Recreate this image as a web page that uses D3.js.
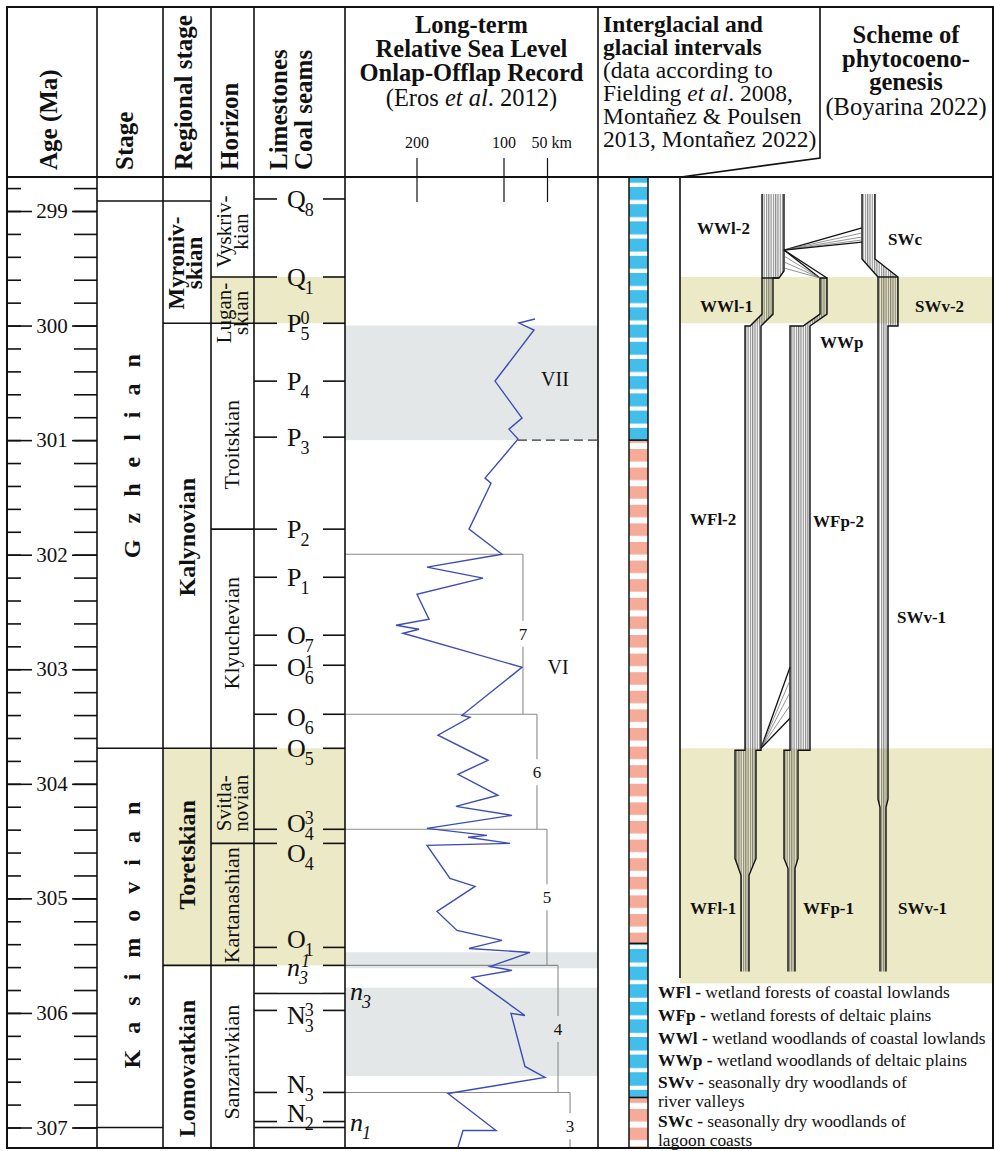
<!DOCTYPE html>
<html>
<head>
<meta charset="utf-8">
<script src="https://cdn.jsdelivr.net/npm/d3@7"></script>
<style>
  body { margin: 0; background: #fff; }
  svg { display: block; }
  text { font-family: "Liberation Serif", "Times New Roman", serif; fill: #111; }
</style>
</head>
<body>
<svg id="chart" width="994" height="1151"></svg>
<script>
// ---- data ----
const ageMajor = [299, 300, 301, 302, 303, 304, 305, 306, 307];
const ageMajorLabels = ["299", "300", "301", "302", "303", "304", "305", "306", "307"];
const ageMinor = d3.range(0, 42).map(i => +(298.8 + i * 0.2).toFixed(1));

const stageNames = ["Gzhelian", "Kasimovian"];
const stageLabelAges = [301.14, 305.32];

const regionalNames = [["Myroniv-", "skian"], ["Kalynovian"], ["Toretskian"], ["Lomovatkian"]];
const regionalLabelAges = [299.454, 301.847, 304.62, 306.485];

const horizonNames = [["Vyskriv-", "kian"], ["Lugan-", "skian"], ["Troitskian"], ["Klyuchevian"],
  ["Svitla-", "novian"], ["Kartanashian"], ["Sanzarivkian"]];
const horizonLabelAges = [299.18, 299.89, 301.04, 302.686, 304.17, 305.06, 306.43];

// boundaries: age, first column, last column
const boundaryAges = [298.913, 299.576, 299.98, 301.777, 303.69, 304.52, 305.585, 307.0];
const boundaryFrom = ["stage", "hor", "reg", "hor", "stage", "hor", "reg", "stage"];
const boundaryTo = ["reg", "hor", "hor", "hor", "hor", "hor", "hor", "stage"];

// limestone / coal seam markers
const seamLetters = ["Q", "Q", "P", "P", "P", "P", "P", "O", "O", "O", "O", "O", "O", "O", "n", "N", "N", "N"];
const seamSubs = ["8", "1", "5", "4", "3", "2", "1", "7", "6", "6", "5", "4", "4", "1", "3", "3", "3", "2"];
const seamSups = ["", "", "0", "", "", "", "", "", "1", "", "", "3", "", "", "1", "3", "", ""];
const seamAges = [298.895, 299.576, 299.98, 300.485, 300.974, 301.777, 302.197, 302.703, 302.965,
  303.393, 303.69, 304.397, 304.52, 305.428, 305.585, 305.978, 306.694, 306.948];
const outerSeamSubs = ["3", "1"];
const outerSeamAges = [305.83, 307.0];

// yellow (warm) intervals
const yellowTops = [299.576, 303.69];
const yellowBottomsLeft = [299.98, 305.585];
const yellowFromCol = ["hor", "reg"];
const yellowBottomsScheme = [299.98, 305.742];

// long-term sea level (km)
const seaAges = [299.943, 299.978, 300.039, 300.485, 300.808, 300.904, 300.991, 301.332, 301.376, 301.777,
  301.996, 302.109, 302.205, 302.345, 302.563, 302.616, 302.651, 302.686, 302.983, 303.402, 303.419,
  303.576, 303.795, 303.917, 304.100, 304.197, 304.275, 304.389, 304.45, 304.467, 304.52, 304.537,
  304.825, 304.895, 305.114, 305.28, 305.367, 305.437, 305.472, 305.594, 305.629, 305.69, 306.022,
  306.004, 306.467, 306.563, 306.703, 307.026, 307.026, 307.2];
const seaKm = [64.4, 82.8, 65.5, 110.3, 79.3, 94.3, 83.9, 121.8, 114.9, 140.2,
  102.3, 188.5, 124.1, 200, 186.2, 224.1, 197.7, 216.1, 79.3, 148.3, 139.1,
  175.9, 118.4, 152.9, 106.9, 155.2, 90.8, 188.5, 119.5, 141.4, 93.1, 188.5,
  162.1, 133.3, 177, 154, 102.3, 140.2, 70.1, 116.1, 90.8, 136.8, 75.9,
  92, 75.9, 52.9, 164.4, 109.2, 147.1, 154];
const kmTicks = [200, 100, 50];
const kmTickLabels = ["200", "100", "50 km"];

const stepNames = ["7", "6", "5", "4", "3"];
const stepTops = [301.996, 303.393, 304.397, 305.585, 306.694];
const stepBottoms = [303.393, 304.397, 305.585, 306.694, 307.3];
const stepKm = [78.2, 62.1, 50.6, 37.9, 24.1];
const stepLabelAges = [302.69, 303.9, 304.99, 306.14, 306.99];

const cycleNames = ["VII", "VI"];
const cycleAges = [300.47, 302.98];
const cycleKm = [41.4, 37.9];

const grayTops = [300.0, 305.47, 305.78];
const grayBottoms = [301.0, 305.61, 306.55];
const dashedAge = 301.0, dashedKm = 84;

// interglacial / glacial bar
const glacialTops = [298.7, 301.0, 305.393, 306.738];
const glacialBottoms = [301.0, 305.393, 306.738, 307.2];
const glacialKinds = ["glacial", "interglacial", "glacial", "interglacial"];

// phytocoenogenesis scheme: band edges [offset in panel, age]
const lineages = [
  { left: [[61, 305.638], [61, 304.799], [55, 304.651], [55, 303.707], [65, 303.707], [65, 300.004], [70, 300.004], [82, 299.9], [82, 298.852]],
    right: [[69, 305.638], [69, 304.799], [76, 304.651], [76, 303.707], [81, 303.707], [81, 300.004], [93, 299.9], [93, 299.585], [99, 299.585], [104, 299.524], [104, 298.852]],
    capTop: false },
  { left: [[108, 305.638], [108, 304.738], [104, 304.651], [104, 303.707], [110, 303.707], [110, 300.004], [123, 300.004], [140, 299.9], [140, 299.585]],
    right: [[115, 305.638], [115, 304.738], [118, 304.651], [118, 303.707], [130, 303.707], [130, 300.004], [147, 299.9], [147, 299.585]],
    capTop: true },
  { left: [[200, 305.638], [200, 304.205], [198, 304.135], [198, 299.576], [182, 299.419], [182, 298.852]],
    right: [[206, 305.638], [206, 304.205], [208, 304.135], [208, 300.004], [218, 300.004], [218, 299.576], [195, 299.419], [195, 298.852]],
    capTop: false }
];
const bandCuts = [[82, 99, 299.585], [198, 218, 299.576]];
// fans: [from, to] points
const fanLines = [
  [[104, 299.341], [182, 299.148]], [[104, 299.341], [182, 299.192]], [[104, 299.341], [182, 299.227]],
  [[104, 299.341], [182, 299.253]], [[104, 299.341], [182, 299.271]],
  [[104, 299.341], [147, 299.585]], [[104, 299.341], [140, 299.585]], [[104, 299.393], [140, 299.585]],
  [[104, 299.445], [140, 299.585]], [[104, 299.498], [140, 299.585]],
  [[81, 303.69], [110, 302.983]], [[81, 303.69], [110, 303.096]], [[81, 303.69], [110, 303.201]],
  [[81, 303.69], [110, 303.314]], [[81, 303.69], [110, 303.428]]
];
const fanOuter = [0, 4, 5, 6, 10, 14];

const schemeLabels = ["WWl-2", "SWc", "WWl-1", "SWv-2", "WWp", "WFl-2", "WFp-2", "SWv-1", "WFl-1", "WFp-1", "SWv-1"];
const schemeLabelX = [17, 208, 20, 235, 140, 10, 133, 217, 10, 123, 218];
const schemeLabelAges = [299.148, 299.245, 299.83, 299.83, 300.144, 301.69, 301.707, 302.546, 305.087, 305.087, 305.087];

const legendCodes = ["WFl", "WFp", "WWl", "WWp", "SWv", "SWc"];
const legendTexts = [["wetland forests of coastal lowlands"], ["wetland forests of deltaic plains"],
  ["wetland woodlands of coastal lowlands"], ["wetland woodlands of deltaic plains"],
  ["seasonally dry woodlands of", "river valleys"], ["seasonally dry woodlands of", "lagoon coasts"]];

// ---- layout ----
const W = 994, H = 1151;
const X0 = 7, X1 = 993, Y0 = 7, YH = 177, Y1 = 1148;
const col = { age: [7, 97], stage: [97, 163], reg: [163, 211], hor: [211, 254], lim: [254, 345],
  sea: [345, 598], glac: [598, 680], scheme: [680, 993] };
// vertical nudge (px) of each seam label relative to its tick, as placed in the figure
const seamLabelShift = [0, 0, 0, 0, 0, 0, 0, 0, 2, 3, 0, -6, 10, -8, 5, 5, -8, -9];
const outerLabelShift = [1, -3];

const y = d3.scaleLinear().domain([299, 307]).range([211, 1127.5]);
const x = d3.scaleLinear().domain([0, 200]).range([591, 417]);
const sx = d3.scaleLinear().domain([0, 313]).range([680, 993]);

const svg = d3.select("#chart");
svg.append("rect").attr("width", W).attr("height", H).attr("fill", "#fff");

const YEL = "#ebe9c6", GRAY = "#e3e7e8", BLUE = "#41bfea", SALMON = "#f5ab97";

const defs = svg.append("defs");
defs.append("clipPath").attr("id", "seaClip").append("rect")
  .attr("x", col.sea[0]).attr("y", YH).attr("width", col.sea[1] - col.sea[0]).attr("height", Y1 - YH);
defs.append("clipPath").attr("id", "bodyClip").append("rect")
  .attr("x", X0).attr("y", YH).attr("width", X1 - X0).attr("height", Y1 - YH);

const hatch = defs.append("pattern").attr("id", "hatch").attr("patternUnits", "userSpaceOnUse")
  .attr("width", 2.3).attr("height", 10);
hatch.append("rect").attr("width", 1.2).attr("height", 10).attr("fill", "rgba(70,70,70,0.62)");

// bar stripe patterns
const stripeDefs = [
  { id: "gl0", c: BLUE, p: 17.2, on: 13, y0: 187 },
  { id: "ig1", c: SALMON, p: 18.6, on: 12.5, y0: 449 },
  { id: "gl2", c: BLUE, p: 17.6, on: 13.5, y0: 949 },
  { id: "ig3", c: SALMON, p: 18.6, on: 12.5, y0: 1109 }
];
stripeDefs.forEach(s => {
  const p = defs.append("pattern").attr("id", s.id).attr("patternUnits", "userSpaceOnUse")
    .attr("x", 0).attr("y", s.y0).attr("width", 40).attr("height", s.p);
  p.append("rect").attr("width", 40).attr("height", s.p).attr("fill", "#fff");
  p.append("rect").attr("width", 40).attr("height", s.on).attr("fill", s.c);
});

// ---- backgrounds ----
const bg = svg.append("g");
yellowTops.forEach((t, i) => {
  bg.append("rect").attr("x", col[yellowFromCol[i]][0]).attr("y", y(t))
    .attr("width", col.lim[1] - col[yellowFromCol[i]][0]).attr("height", y(yellowBottomsLeft[i]) - y(t))
    .attr("fill", YEL);
  bg.append("rect").attr("x", col.scheme[0]).attr("y", y(t))
    .attr("width", col.scheme[1] - col.scheme[0]).attr("height", y(yellowBottomsScheme[i]) - y(t))
    .attr("fill", YEL);
});
grayTops.forEach((t, i) => {
  bg.append("rect").attr("x", col.sea[0]).attr("y", y(t))
    .attr("width", col.sea[1] - col.sea[0]).attr("height", y(grayBottoms[i]) - y(t)).attr("fill", GRAY);
});

// ---- glacial bar ----
const barX0 = 629, barX1 = 648;
const bar = svg.append("g").attr("clip-path", "url(#bodyClip)");
glacialTops.forEach((t, i) => {
  bar.append("rect").attr("x", barX0).attr("y", y(t)).attr("width", barX1 - barX0)
    .attr("height", y(glacialBottoms[i]) - y(t)).attr("fill", `url(#${stripeDefs[i].id})`);
  if (i > 0) bar.append("line").attr("x1", barX0).attr("x2", barX1).attr("y1", y(t)).attr("y2", y(t))
    .attr("stroke", "#111").attr("stroke-width", 1.6);
});
[barX0, barX1].forEach(bx => bar.append("line").attr("x1", bx).attr("x2", bx).attr("y1", YH).attr("y2", Y1)
  .attr("stroke", "#111").attr("stroke-width", 1.5));

// ---- sea level column ----
const sea = svg.append("g").attr("clip-path", "url(#seaClip)");
stepNames.forEach((n, i) => {
  const sxp = x(stepKm[i]);
  sea.append("line").attr("x1", col.sea[0]).attr("x2", sxp).attr("y1", y(stepTops[i])).attr("y2", y(stepTops[i]))
    .attr("stroke", "#8a8a8a").attr("stroke-width", 1.1);
  const ly = y(stepLabelAges[i]);
  sea.append("line").attr("x1", sxp).attr("x2", sxp).attr("y1", y(stepTops[i])).attr("y2", ly - 13)
    .attr("stroke", "#8a8a8a").attr("stroke-width", 1.1);
  sea.append("line").attr("x1", sxp).attr("x2", sxp).attr("y1", ly + 13).attr("y2", y(stepBottoms[i]))
    .attr("stroke", "#8a8a8a").attr("stroke-width", 1.1);
  sea.append("text").attr("x", sxp).attr("y", ly + 6).attr("text-anchor", "middle")
    .style("font-size", "17px").text(n);
});
sea.append("line").attr("x1", x(dashedKm)).attr("x2", col.sea[1]).attr("y1", y(dashedAge)).attr("y2", y(dashedAge))
  .attr("stroke", "#333").attr("stroke-width", 1.1).attr("stroke-dasharray", "9,5");
cycleNames.forEach((n, i) => {
  sea.append("text").attr("x", x(cycleKm[i])).attr("y", y(cycleAges[i]) + 7).attr("text-anchor", "middle")
    .style("font-size", "20px").text(n);
});
const seaPts = seaAges.map((a, i) => [a, seaKm[i]]);
sea.append("path").datum(seaPts)
  .attr("d", d3.line().x(d => x(d[1])).y(d => y(d[0])))
  .attr("fill", "none").attr("stroke", "#3c4db5").attr("stroke-width", 1.4).attr("stroke-linejoin", "miter");

// km ticks in header
kmTicks.forEach((k, i) => {
  svg.append("line").attr("x1", x(k)).attr("x2", x(k)).attr("y1", 158).attr("y2", 202)
    .attr("stroke", "#111").attr("stroke-width", 1.2);
  svg.append("text").attr("x", i === 2 ? x(k) - 16 : x(k)).attr("y", 148)
    .attr("text-anchor", i === 2 ? "start" : "middle").style("font-size", "16px").text(kmTickLabels[i]);
});

// ---- scheme ----
const sch = svg.append("g");
const pt = d => [sx(d[0]), y(d[1])];
lineages.forEach(L => {
  const poly = L.left.map(pt).concat(L.right.slice().reverse().map(pt));
  sch.append("path").attr("d", d3.line()(poly) + "Z").attr("fill", "url(#hatch)");
  const edge = d3.line();
  if (L.capTop) {
    sch.append("path").attr("d", edge(L.left.map(pt).concat(L.right.slice().reverse().map(pt))))
      .attr("fill", "none").attr("stroke", "#111").attr("stroke-width", 1.4);
  } else {
    sch.append("path").attr("d", edge(L.left.map(pt))).attr("fill", "none").attr("stroke", "#111").attr("stroke-width", 1.4);
    sch.append("path").attr("d", edge(L.right.map(pt))).attr("fill", "none").attr("stroke", "#111").attr("stroke-width", 1.4);
  }
});
bandCuts.forEach(c => {
  sch.append("line").attr("x1", sx(c[0])).attr("x2", sx(c[1])).attr("y1", y(c[2])).attr("y2", y(c[2]))
    .attr("stroke", "#111").attr("stroke-width", 1.4);
});
fanLines.forEach((f, i) => {
  const outer = fanOuter.includes(i);
  sch.append("line").attr("x1", sx(f[0][0])).attr("y1", y(f[0][1])).attr("x2", sx(f[1][0])).attr("y2", y(f[1][1]))
    .attr("stroke", outer ? "#111" : "#666").attr("stroke-width", outer ? 1.3 : 0.7);
});
schemeLabels.forEach((s, i) => {
  sch.append("text").attr("x", sx(schemeLabelX[i])).attr("y", y(schemeLabelAges[i]) + 6)
    .style("font-size", "17px").style("font-weight", "bold").text(s);
});

// legend
const legY = [998, 1021, 1044, 1066, 1088, 1127];
legendCodes.forEach((c, i) => {
  legendTexts[i].forEach((t, j) => {
    const tx = svg.append("text").attr("x", 658).attr("y", legY[i] + j * 19).style("font-size", "17.4px");
    if (j === 0) {
      tx.append("tspan").style("font-weight", "bold").text(c + " - ");
      tx.append("tspan").text(t);
    } else tx.text(t);
  });
});

// ---- grid lines ----
const grid = svg.append("g").attr("stroke", "#111");
[97, 163, 211, 254, 345, 598].forEach(gx => grid.append("line").attr("x1", gx).attr("x2", gx)
  .attr("y1", Y0).attr("y2", Y1).attr("stroke-width", 1.6));
grid.append("line").attr("x1", 680).attr("x2", 680).attr("y1", YH).attr("y2", 978).attr("stroke-width", 1.6);
grid.append("line").attr("x1", X0).attr("x2", X1).attr("y1", YH).attr("y2", YH).attr("stroke-width", 1.8);
grid.append("path").attr("d", "M820,7 L820,158 L681,177").attr("fill", "none").attr("stroke-width", 1.6);

boundaryAges.forEach((a, i) => {
  grid.append("line").attr("x1", col[boundaryFrom[i]][0]).attr("x2", col[boundaryTo[i]][1])
    .attr("y1", y(a)).attr("y2", y(a)).attr("stroke-width", 1.6);
});

// age axis (ticks on both sides)
const axG = svg.append("g").style("color", "#111");
const tickAxis = (gen, tx, vals, size) => axG.append("g").attr("transform", `translate(${tx},0)`)
  .call(gen(y).tickValues(vals).tickSize(size).tickFormat(""))
  .call(g => g.select(".domain").remove())
  .call(g => g.selectAll("line").attr("stroke-width", 1.6));
tickAxis(d3.axisRight, col.age[0], ageMinor, 14);
tickAxis(d3.axisRight, col.age[0], ageMajor, 25);
tickAxis(d3.axisLeft, col.age[1], ageMinor, 23);
tickAxis(d3.axisLeft, col.age[1], ageMajor, 25);
ageMajor.forEach((a, i) => {
  axG.append("text").attr("x", 52).attr("y", y(a) + 7).attr("text-anchor", "middle")
    .style("font-size", "21px").text(ageMajorLabels[i]);
});

// seam ticks and labels
const seamG = svg.append("g");
function seamTick(a) {
  const yy = y(a);
  seamG.append("line").attr("x1", col.lim[0]).attr("x2", 277).attr("y1", yy).attr("y2", yy).attr("stroke", "#111").attr("stroke-width", 1.6);
  seamG.append("line").attr("x1", 323).attr("x2", col.lim[1]).attr("y1", yy).attr("y2", yy).attr("stroke", "#111").attr("stroke-width", 1.6);
}
function seamLabel(x0, cy, letter, sub, sup, italic) {
  const st = italic ? "italic" : "normal";
  const t = seamG.append("text").attr("x", x0).attr("y", cy + (italic ? 6 : 9))
    .style("font-size", "26px").style("font-style", st).text(letter);
  const w = t.node().getComputedTextLength() - 1;
  if (sub) seamG.append("text").attr("x", x0 + w).attr("y", cy + (italic ? 14 : 17))
    .style("font-size", "18px").style("font-style", st).text(sub);
  if (sup) seamG.append("text").attr("x", x0 + w + (italic ? 2 : 0)).attr("y", cy + (italic ? -3 : 1))
    .style("font-size", "18px").style("font-style", st).text(sup);
}
seamAges.forEach((a, i) => {
  seamTick(a);
  seamLabel(287, y(a) + seamLabelShift[i], seamLetters[i], seamSubs[i], seamSups[i], seamLetters[i] === "n");
});
outerSeamAges.forEach((a, i) => {
  seamTick(a);
  seamG.append("line").attr("x1", 277).attr("x2", 323).attr("y1", y(a)).attr("y2", y(a)).attr("stroke", "#111").attr("stroke-width", 1.6);
  seamLabel(350, y(a) + outerLabelShift[i], "n", outerSeamSubs[i], "", true);
});

// ---- column texts ----
const txt = svg.append("g");
function vtext(tx, ty, str, size, weight, anchor, extra) {
  const t = txt.append("text").attr("transform", `translate(${tx},${ty}) rotate(-90)`)
    .attr("text-anchor", anchor).style("font-size", size + "px").style("font-weight", weight).text(str);
  if (extra) extra(t);
  return t;
}
stageNames.forEach((n, i) => {
  vtext(140, y(stageLabelAges[i]), n, 24, "bold", "middle",
    t => t.style("letter-spacing", "16px").attr("x", 8));
});
regionalNames.forEach((lines, i) => {
  const cy = y(regionalLabelAges[i]);
  if (lines.length === 2) {
    vtext(184, cy, lines[0], 23, "bold", "middle");
    vtext(202, cy, lines[1], 23, "bold", "middle");
  } else vtext(195, cy, lines[0], 24, "bold", "middle");
});
horizonNames.forEach((lines, i) => {
  const cy = y(horizonLabelAges[i]);
  if (lines.length === 2) {
    vtext(231, cy, lines[0], 21, "normal", "middle");
    vtext(248, cy, lines[1], 21, "normal", "middle");
  } else vtext(239, cy, lines[0], 22, "normal", "middle");
});

// ---- header ----
const hd = svg.append("g");
[["Age (Ma)", 57], ["Stage", 133], ["Regional stage", 192], ["Horizon", 238], ["Limestones", 287], ["Coal seams", 312]]
  .forEach(d => vtext(d[1], 170, d[0], 25, "bold", "start"));

const seaHead = [["Long-term", 33], ["Relative Sea Level", 57], ["Onlap-Offlap Record", 81]];
seaHead.forEach(d => hd.append("text").attr("x", 471.5).attr("y", d[1]).attr("text-anchor", "middle")
  .style("font-size", "24.5px").style("font-weight", "bold").text(d[0]));
const eros = hd.append("text").attr("x", 471.5).attr("y", 106).attr("text-anchor", "middle").style("font-size", "24.5px");
eros.append("tspan").text("(Eros ");
eros.append("tspan").style("font-style", "italic").text("et al");
eros.append("tspan").text(". 2012)");

[["Interglacial and", 32], ["glacial intervals", 55]].forEach(d => hd.append("text").attr("x", 603).attr("y", d[1])
  .style("font-size", "23.5px").style("font-weight", "bold").text(d[0]));
hd.append("text").attr("x", 603).attr("y", 78).style("font-size", "23.5px").text("(data according to");
const fld = hd.append("text").attr("x", 603).attr("y", 101).style("font-size", "23.5px");
fld.append("tspan").text("Fielding ");
fld.append("tspan").style("font-style", "italic").text("et al");
fld.append("tspan").text(". 2008,");
hd.append("text").attr("x", 603).attr("y", 124).style("font-size", "23.5px").text("Montañez & Poulsen");
hd.append("text").attr("x", 603).attr("y", 147).style("font-size", "23.5px").text("2013, Montañez 2022)");

[["Scheme of", 43], ["phytocoeno-", 67], ["genesis", 90]].forEach(d => hd.append("text").attr("x", 906).attr("y", d[1])
  .attr("text-anchor", "middle").style("font-size", "24.5px").style("font-weight", "bold").text(d[0]));
hd.append("text").attr("x", 906).attr("y", 115).attr("text-anchor", "middle").style("font-size", "24.5px").text("(Boyarina 2022)");

// outer frame
svg.append("rect").attr("x", X0).attr("y", Y0).attr("width", X1 - X0).attr("height", Y1 - Y0)
  .attr("fill", "none").attr("stroke", "#111").attr("stroke-width", 2);
</script>
</body>
</html>
